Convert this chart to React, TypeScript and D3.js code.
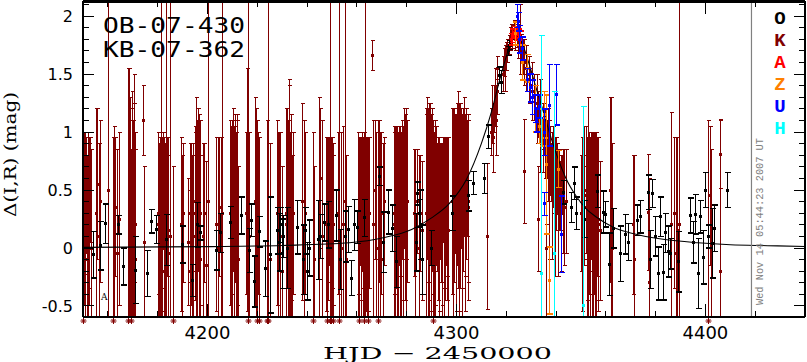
import * as d3 from "d3";

// plot frame in page pixels
const W = 807;
const H = 362;
const PLOT = { left: 83, right: 805, top: 1, bottom: 317 };

const X_DOMAIN = [4150, 4440];
const Y_DOMAIN = [-0.595, 2.13];
const X_MAJOR = [4200, 4300, 4400];
const X_LABELS = ["4200", "4300", "4400"];
const Y_MAJOR = [-0.5, 0, 0.5, 1, 1.5, 2];
const Y_LABELS = ["-0.5", "0", "0.5", "1", "1.5", "2"];
const NOW_HJD = 4418.5;

// [HJD-2450000, delta mag, error]
const OGLE = [
  [4154.0, -0.06, 0.2], [4156.8, 0.02, 0.21], [4158.9, 0.21, 0.17], [4164.1, 0.2, 0.08],
  [4166.1, -0.16, 0.16], [4170.9, -0.19, 0.29], [4175.8, -0.22, 0.2], [4177.4, 0.23, 0.1],
  [4179.4, 0.16, 0.12], [4183.4, 0.07, 0.22], [4189.8, 0.03, 0.16], [4193.9, -0.28, 0.14],
  [4195.9, 0.2, 0.19], [4197.1, 0.13, 0.06], [4203.5, -0.02, 0.17], [4205.1, 0.13, 0.17],
  [4209.2, 0.22, 0.14], [4213.6, 0.28, 0.16], [4216.8, -0.02, 0.19], [4217.6, 0.24, 0.14],
  [4218.8, -0.29, 0.22], [4220.8, 0.14, 0.13], [4223.2, -0.18, 0.24], [4225.3, -0.06, 0.5],
  [4228.0, 0.15, 0.2], [4228.6, 0.05, 0.25], [4229.2, 0.2, 0.15], [4229.8, -0.05, 0.3],
  [4230.4, 0.1, 0.18], [4232.1, 0.0, 0.35], [4236.1, 0.18, 0.23], [4238.5, -0.1, 0.3],
  [4239.3, 0.15, 0.2], [4240.1, -0.2, 0.25], [4240.9, 0.0, 0.24], [4244.2, 0.07, 0.34],
  [4245.0, 0.1, 0.19], [4246.6, 0.22, 0.16], [4248.6, 0.2, 0.2], [4251.8, 0.28, 0.22],
  [4253.4, -0.1, 0.26], [4255.4, 0.1, 0.22], [4256.6, 0.16, 0.2], [4257.8, -0.26, 0.15],
  [4258.7, 0.2, 0.22], [4259.9, 0.18, 0.14], [4262.7, 0.26, 0.16], [4268.7, 0.62, 0.08],
  [4270.3, 0.05, 0.26], [4272.7, 0.31, 0.19], [4274.3, 0.17, 0.2], [4275.6, -0.12, 0.22],
  [4283.8, 0.05, 0.25], [4284.0, 0.47, 0.1], [4284.8, 0.3, 0.12], [4285.2, 0.2, 0.3],
  [4286.2, -0.1, 0.3], [4289.8, 0.0, 0.15], [4298.1, 0.3, 0.15], [4304.5, 0.45, 0.13],
  [4306.5, 0.56, 0.1], [4311.0, 0.6, 0.13], [4312.6, 0.96, 0.1], [4317.0, 1.49, 0.07],
  [4317.8, 1.43, 0.1], [4320.6, 1.7, 0.04], [4321.0, 1.75, 0.04],
  [4342.8, 0.48, 0.1], [4346.0, 0.35, 0.13], [4347.2, 0.56, 0.14], [4348.0, 0.3, 0.14],
  [4351.2, 0.25, 0.16], [4356.4, 0.49, 0.14], [4358.9, 0.31, 0.18], [4359.7, 0.29, 0.11],
  [4361.3, -0.14, 0.27], [4362.9, 0.17, 0.17], [4365.7, -0.05, 0.24], [4367.7, 0.12, 0.17],
  [4368.9, 0.05, 0.16], [4372.5, 0.24, 0.13], [4373.7, 0.27, 0.14], [4377.0, 0.48, 0.15],
  [4377.8, -0.1, 0.25], [4378.6, 0.47, 0.12], [4379.8, 0.1, 0.17], [4381.0, -0.22, 0.23],
  [4381.8, 0.27, 0.17], [4383.0, -0.21, 0.24], [4383.8, 0.13, 0.17], [4385.0, -0.03, 0.22],
  [4385.8, -0.05, 0.13], [4389.0, -0.12, 0.26], [4393.9, 0.28, 0.15], [4395.1, 0.05, 0.18],
  [4395.9, 0.29, 0.17], [4397.1, -0.22, 0.3], [4397.9, 0.27, 0.14], [4399.1, -0.08, 0.23],
  [4399.9, 0.5, 0.15], [4401.1, 0.1, 0.1], [4402.7, 0.04, 0.3], [4403.5, 0.17, 0.2],
  [4408.8, 0.5, 0.15],
];

const KB = [
  [4150.1, -0.8, 1.7], [4150.3, 0.35, 0.58], [4150.5, 0.25, 0.75], [4150.8, 0.1, 0.8],
  [4151.0, 0.4, 0.6], [4151.3, 0.45, 0.5], [4151.8, -0.1, 0.9], [4152.0, 0.15, 0.85],
  [4152.3, 0.2, 0.7], [4152.6, 0.3, 0.65], [4152.8, 0.5, 0.45], [4153.2, 0.0, 0.85],
  [4155.3, 0.3, 0.9], [4155.8, 0.55, 0.65], [4156.3, 0.1, 0.8], [4156.7, 0.4, 0.7],
  [4160.2, 0.5, 2.5],
  [4162.1, -0.8, 1.75], [4162.6, 0.1, 0.95], [4163.0, 0.35, 0.6], [4163.7, -0.05, 0.9], [4164.3, 0.25, 0.75],
  [4168.1, -0.8, 2.35], [4168.6, 0.2, 1.35], [4168.9, 0.1, 1.0], [4169.0, 0.5, 0.8],
  [4169.3, -0.75, 1.6], [4169.6, 0.4, 0.95], [4169.8, 0.3, 0.9], [4170.2, 0.0, 1.1],
  [4170.4, 0.25, 1.0], [4170.6, 0.6, 0.9], [4170.8, -0.1, 0.95], [4171.0, 0.2, 0.8],
  [4174.2, 1.1, 0.3], [4174.6, 0.05, 0.65],
  [4180.0, 0.2, 0.8], [4180.2, 0.3, 0.7], [4180.4, -0.1, 1.0], [4180.8, 0.4, 0.55],
  [4181.0, 0.05, 0.85], [4181.2, 0.3, 2.6], [4181.6, 0.0, 0.9], [4181.8, 0.3, 0.65],
  [4182.0, 0.5, 0.5], [4182.4, -0.2, 0.9], [4182.6, 0.2, 0.75], [4182.8, 0.1, 0.8],
  [4183.3, 0.2, 2.6], [4183.8, 0.35, 0.6], [4184.0, 0.15, 0.8], [4184.3, -0.05, 0.85], [4185.0, 0.1, 2.5],
  [4186.2, -0.8, 1.5],
  [4189.2, 0.2, 0.75], [4189.7, -0.1, 0.9], [4190.1, 0.3, 0.6],
  [4192.2, 0.05, 0.55], [4192.8, -0.2, 0.7], [4193.0, 0.3, 0.6], [4193.5, 0.2, 0.7],
  [4193.8, -0.1, 0.9], [4194.2, 0.1, 0.8], [4194.8, 0.4, 0.6], [4195.1, 0.3, 0.75],
  [4195.4, 0.0, 1.3], [4195.7, 0.2, 0.9], [4196.0, 0.5, 0.7], [4196.5, 0.15, 1.0],
  [4196.8, 0.3, 0.8], [4197.0, -0.1, 0.9],
  [4198.2, 0.1, 0.8], [4198.8, 0.3, 0.6], [4199.4, -0.15, 0.9], [4200.3, 0.4, 2.5],
  [4203.6, 0.2, 0.75], [4204.2, 0.0, 0.95], [4204.8, 0.35, 0.6], [4205.5, 0.1, 0.85], [4206.0, 0.3, 2.5],
  [4209.2, 0.3, 0.8], [4209.4, 0.15, 0.9], [4209.7, 0.0, 1.0], [4210.0, 0.35, 0.75],
  [4210.2, 0.5, 0.7], [4210.5, 0.2, 0.85], [4210.7, 0.1, 0.9], [4211.0, 0.4, 0.7],
  [4211.2, 0.6, 0.55], [4211.5, 0.0, 1.0], [4211.7, 0.2, 0.95], [4212.0, 0.3, 0.8], [4212.2, -0.1, 0.8],
  [4215.5, 0.3, 0.7], [4216.0, 0.5, 1.05], [4216.4, -0.8, 3.2], [4216.8, 0.1, 0.9],
  [4218.9, 0.4, 0.9], [4219.4, 0.1, 1.1], [4220.0, -0.8, 1.9], [4220.4, 0.3, 0.7], [4220.8, -0.75, 1.7],
  [4224.0, -0.8, 1.9], [4224.5, -0.8, 3.2], [4225.0, -0.1, 1.0],
  [4227.8, 0.3, 0.8], [4228.3, 0.0, 1.0], [4228.8, 0.4, 0.6], [4229.3, 0.1, 0.9], [4229.8, -0.2, 0.9],
  [4231.4, 0.2, 1.0], [4231.6, 0.3, 0.9], [4231.9, 0.5, 0.7], [4232.2, 0.15, 0.95],
  [4232.4, 0.0, 1.0], [4232.6, 0.6, 0.8], [4232.9, 0.4, 1.05], [4233.1, 0.1, 0.9],
  [4233.4, 0.2, 0.8], [4233.6, 0.35, 0.8], [4233.9, -0.1, 0.9], [4234.2, 0.3, 0.7],
  [4238.1, 0.4, 0.85], [4238.6, 0.1, 1.0], [4239.2, 0.3, 0.7],
  [4242.2, -0.8, 1.8], [4242.6, -0.1, 0.8],
  [4244.6, 0.3, 1.0], [4245.3, 0.6, 0.6], [4246.0, 0.1, 1.0],
  [4247.8, 0.2, 0.75], [4248.0, 0.1, 0.8], [4248.2, -0.8, 1.75], [4248.5, 0.25, 0.7],
  [4248.7, 0.4, 0.55], [4249.1, -0.8, 3.2], [4249.4, 0.3, 0.6], [4249.6, 0.0, 0.9],
  [4249.8, -0.75, 1.7], [4250.0, 0.1, 0.8], [4250.2, 0.3, 0.65], [4250.4, 0.2, 0.7], [4250.6, -0.8, 1.6],
  [4252.6, 0.3, 0.7], [4253.0, -0.8, 3.2], [4253.8, 0.0, 1.0], [4254.5, 0.2, 0.85],
  [4255.2, 0.4, 2.6], [4255.8, -0.1, 0.9],
  [4260.3, 0.2, 0.8], [4260.5, 0.3, 0.7], [4260.7, -0.8, 1.75], [4261.0, 0.0, 0.9],
  [4261.3, 0.4, 0.55], [4261.6, 0.25, 0.7], [4261.8, 0.1, 0.85], [4262.0, 0.4, 0.6],
  [4262.3, 0.3, 0.65], [4262.5, 0.1, 0.85], [4262.7, -0.8, 1.8], [4263.0, 0.2, 0.8],
  [4263.2, 0.5, 2.6], [4263.5, 0.35, 0.6], [4263.7, 0.2, 0.75], [4264.0, 0.1, 0.85],
  [4264.3, -0.8, 1.75], [4264.5, 0.2, 0.75], [4264.7, 0.3, 0.65],
  [4266.2, 1.66, 0.13],
  [4266.6, 0.2, 0.9], [4267.2, 0.5, 0.6], [4267.8, 0.0, 1.0], [4268.3, -0.8, 1.9],
  [4268.8, 0.4, 0.7], [4269.3, 0.1, 0.9], [4269.8, 0.3, 0.7], [4270.3, -0.1, 1.0], [4270.7, 0.4, 0.55],
  [4274.8, 0.3, 0.7], [4275.1, 0.2, 0.85], [4275.4, 0.1, 0.95], [4275.7, 0.35, 0.7],
  [4276.0, 0.5, 0.55], [4276.3, 0.1, 0.9], [4276.6, 0.2, 0.8], [4276.9, 0.45, 0.6],
  [4277.2, 0.4, 0.65], [4277.5, 0.2, 0.85], [4277.8, 0.0, 1.0], [4278.1, 0.5, 0.6],
  [4278.4, 0.3, 0.75], [4278.7, 0.1, 0.95], [4279.0, 0.6, 0.6], [4279.3, 0.35, 0.8],
  [4279.6, 0.2, 1.0], [4279.9, 0.5, 0.6], [4280.2, 0.4, 0.7],
  [4282.9, 0.3, 0.55], [4283.5, 0.1, 0.75], [4284.2, 0.4, 0.45], [4284.9, 0.0, 0.8],
  [4285.5, 0.3, 0.5], [4286.1, 0.15, 0.6],
  [4287.6, 0.3, 0.9], [4287.9, 0.2, 0.95], [4288.1, 0.6, 0.7], [4288.4, 0.45, 0.75],
  [4288.6, 0.1, 1.0], [4288.9, 0.25, 0.9], [4289.1, 0.4, 0.85], [4289.4, 0.55, 0.7],
  [4289.6, 0.2, 0.9], [4289.9, 0.3, 0.85], [4290.1, 0.5, 0.7], [4290.4, -0.8, 1.6],
  [4290.6, 0.35, 0.75], [4290.8, 0.0, 1.0], [4291.2, 0.3, 0.8], [4291.4, 0.15, 0.9], [4291.6, 0.45, 0.6],
  [4292.2, 0.35, 0.55], [4292.5, 0.25, 0.7], [4292.8, 0.1, 0.8], [4293.1, 0.2, 0.75],
  [4293.4, 0.4, 0.5], [4293.7, 0.3, 0.6], [4294.0, 0.2, 0.7], [4294.3, 0.1, 0.8],
  [4294.6, 0.5, 0.45], [4294.9, 0.3, 0.65], [4295.2, 0.15, 0.8], [4295.5, 0.25, 0.7],
  [4295.8, 0.4, 0.55], [4296.1, 0.35, 0.6], [4296.4, 0.25, 0.7], [4296.7, 0.15, 0.8],
  [4298.2, 0.4, 0.8], [4298.5, 0.3, 0.9], [4298.8, 0.2, 0.9], [4299.1, 0.45, 0.75],
  [4299.4, 0.55, 0.6], [4299.7, 0.2, 0.95], [4300.0, 0.3, 0.85], [4300.3, 0.55, 0.7],
  [4300.6, 0.5, 0.85], [4300.9, 0.35, 0.9], [4301.2, 0.2, 1.0], [4301.5, 0.45, 0.8],
  [4301.8, 0.6, 0.6], [4302.1, 0.25, 0.9], [4302.4, 0.4, 0.75], [4302.7, 0.5, 0.7],
  [4303.0, 0.7, 0.6], [4303.3, 0.3, 0.85], [4303.6, 0.45, 0.7], [4303.9, 0.55, 0.65],
  [4304.2, 0.6, 0.5], [4304.5, 0.4, 0.7], [4304.8, 0.35, 0.8],
  [4312.2, 0.1, 0.63],
  [4313.9, 1.0, 0.2], [4314.3, 1.15, 0.25], [4314.7, 0.95, 0.3], [4315.1, 1.2, 0.2],
  [4315.5, 1.3, 0.25], [4315.9, 1.1, 0.3], [4316.3, 1.35, 0.2], [4316.4, 1.55, 0.1],
  [4318.7, 1.5, 0.15], [4319.1, 1.6, 0.12], [4319.5, 1.55, 0.2], [4319.9, 1.65, 0.12], [4320.3, 1.7, 0.1],
  [4321.0, 1.75, 0.08], [4321.5, 1.8, 0.1], [4322.0, 1.85, 0.08], [4322.5, 1.82, 0.1],
  [4323.0, 1.88, 0.08], [4323.5, 1.8, 0.1],
  [4324.2, 1.83, 0.1], [4324.8, 1.78, 0.15], [4325.4, 1.8, 0.3], [4326.0, 1.72, 0.12],
  [4326.6, 1.65, 0.15], [4327.0, 0.66, 0.45], [4327.2, 1.6, 0.2], [4327.8, 1.55, 0.2],
  [4328.4, 1.5, 0.15], [4329.0, 1.45, 0.2], [4329.6, 1.4, 0.15], [4330.2, 1.35, 0.25],
  [4331.0, 1.3, 0.2], [4331.6, 1.25, 0.15], [4332.2, 1.2, 0.3], [4332.7, 0.25, 0.45],
  [4332.8, 1.15, 0.2], [4333.4, 1.05, 0.4], [4334.0, 1.1, 0.25], [4334.6, 0.95, 0.3],
  [4335.6, 0.9, 0.3], [4335.9, 0.7, 0.5], [4336.0, 0.0, 0.85], [4336.2, 0.85, 0.25],
  [4336.8, 0.8, 0.4], [4337.1, 0.5, 0.6], [4337.4, 0.75, 0.3], [4338.0, 0.65, 0.25],
  [4338.3, 0.45, 0.55], [4338.6, 0.7, 0.35], [4339.2, 0.6, 0.3], [4339.5, 0.35, 0.6],
  [4339.8, 0.55, 0.4], [4340.4, 0.6, 0.3], [4340.7, 0.3, 0.55], [4341.0, 0.5, 0.35],
  [4341.6, 0.45, 0.3], [4341.9, 0.3, 0.5], [4342.2, 0.55, 0.25], [4342.6, 0.4, 0.45],
  [4343.2, 0.35, 0.5], [4344.0, 0.4, 0.45],
  [4350.2, 0.3, 0.5], [4350.6, 0.2, 0.75], [4350.8, 0.0, 0.7], [4351.1, 0.45, 0.6],
  [4351.4, 0.35, 0.45], [4351.9, 0.5, 0.55], [4352.4, 0.1, 0.75], [4352.6, 0.25, 0.7],
  [4352.9, 0.35, 0.95], [4353.1, 0.4, 0.6], [4353.4, 0.2, 0.6], [4353.7, 0.1, 0.85],
  [4354.0, 0.45, 0.55], [4354.3, 0.3, 0.7], [4354.6, 0.0, 0.8], [4355.0, 0.2, 0.8],
  [4355.2, 0.3, 0.7], [4355.5, 0.4, 0.6], [4355.8, 0.1, 0.9], [4356.1, 0.2, 0.8],
  [4356.4, 0.35, 0.6], [4356.7, 0.25, 0.7], [4357.0, 0.2, 0.75], [4357.6, 0.15, 0.6],
  [4361.8, 0.5, 0.8], [4362.1, 0.2, 1.1], [4362.5, 0.0, 0.9],
  [4370.9, 0.2, 0.6], [4371.3, -0.1, 0.9],
  [4377.0, 0.31, 0.5], [4377.4, -0.3, 0.9],
  [4386.2, 0.2, 0.97], [4387.5, 0.3, 0.65], [4388.0, -0.05, 1.0], [4388.5, 0.15, 0.8], [4389.2, 0.2, 2.6],
  [4401.1, -0.8, 1.9], [4401.7, 0.45, 0.6], [4402.2, 0.0, 0.85],
  [4405.8, 0.81, 0.3], [4406.0, -0.2, 1.3],
];

const AUCK = [
  [4321.9, 1.8, 0.05], [4322.5, 1.83, 0.06], [4323.2, 1.86, 0.05],
  [4324.0, 1.85, 0.06], [4324.8, 1.84, 0.05], [4325.6, 1.81, 0.06],
];

const ZEAL = [
  [4323.4, 1.85, 0.1], [4326.5, 1.6, 0.15], [4328.5, 1.55, 0.12], [4331.5, 1.2, 0.2],
  [4333.2, 1.05, 0.15], [4334.5, 1.0, 0.12], [4335.2, 1.15, 0.2], [4336.0, 0.72, 0.6],
  [4337.2, -0.28, 0.29], [4340.8, 0.68, 0.16],
];

const UTAS = [
  [4324.2, 2.0, 0.1], [4324.6, 1.95, 0.08], [4325.3, 1.8, 0.12], [4326.2, 1.72, 0.1],
  [4328.2, 1.45, 0.1], [4329.5, 1.38, 0.12], [4330.5, 1.3, 0.15], [4331.5, 1.2, 0.12],
  [4332.0, 1.1, 0.1], [4333.0, 1.22, 0.1], [4335.0, 1.0, 0.2], [4335.1, 0.38, 0.1],
  [4337.1, 1.23, 0.35], [4340.0, 1.32, 0.26], [4342.0, 0.12, 0.33],
];

const HAWA = [
  [4333.9, -0.22, 2.05], [4339.1, -0.05, 1.4], [4350.8, -0.5, 1.72],
];

const MODEL = [
  [4150, 0.005], [4200, 0.012], [4230, 0.022], [4257, 0.045], [4271, 0.09], [4282, 0.16],
  [4290, 0.26], [4297, 0.38], [4304, 0.59], [4310, 0.9], [4314, 1.17], [4317, 1.42],
  [4320, 1.65], [4322, 1.77], [4324, 1.82], [4326, 1.78], [4329, 1.6], [4332, 1.38],
  [4335, 1.17], [4338, 0.95], [4341, 0.76], [4344, 0.6], [4348, 0.45], [4352, 0.34],
  [4356, 0.27], [4363, 0.18], [4370, 0.13], [4383, 0.075], [4397, 0.045], [4410, 0.028],
  [4425, 0.02], [4440, 0.013],
];

const LEGEND = [
  { code: "O", color: "#000000" },
  { code: "K", color: "#800000" },
  { code: "A", color: "#ff0000" },
  { code: "Z", color: "#ff8000" },
  { code: "U", color: "#0000ff" },
  { code: "H", color: "#00ffff" },
];

const x = d3.scaleLinear().domain(X_DOMAIN).range([PLOT.left, PLOT.right]);
const y = d3.scaleLinear().domain(Y_DOMAIN).range([PLOT.bottom, PLOT.top]);

function ErrorBars({ data, color, cap, width, dot }) {
  return (
    <g>
      {data.map(([t, m, e], i) => {
        const cx = Math.round(x(t)) + 0.5;
        const yTop = y(m + e);
        const yBot = y(m - e);
        const cy = y(m);
        return (
          <g key={i}>
            <line x1={cx} x2={cx} y1={yTop} y2={yBot} stroke={color} strokeWidth={width} />
            <line x1={cx - cap} x2={cx + cap} y1={yTop} y2={yTop} stroke={color} strokeWidth={width} />
            <line x1={cx - cap} x2={cx + cap} y1={yBot} y2={yBot} stroke={color} strokeWidth={width} />
            <rect x={cx - dot / 2} y={cy - dot / 2} width={dot} height={dot} fill={color} />
          </g>
        );
      })}
    </g>
  );
}

// points fainter than the bottom of the plot are flagged with an asterisk below the axis
function LowStars({ data, color }) {
  const low = data.filter((d) => d[1] < Y_DOMAIN[0]);
  return (
    <g stroke={color} strokeWidth={1}>
      {low.map(([t], i) => {
        const cx = Math.round(x(t)) + 0.5;
        const cy = PLOT.bottom + 4;
        return (
          <path
            key={i}
            d={`M${cx - 3},${cy}H${cx + 3}M${cx},${cy - 3}V${cy + 3}M${cx - 2},${cy - 2}L${cx + 2},${cy + 2}M${cx - 2},${cy + 2}L${cx + 2},${cy - 2}`}
          />
        );
      })}
    </g>
  );
}

export default function App() {
  const modelLine = d3
    .line()
    .x((d) => x(d[0]))
    .y((d) => y(d[1]))
    .curve(d3.curveMonotoneX);

  const xMinor = d3.range(4160, 4441, 20).filter((v) => !X_MAJOR.includes(v));
  const yMinor = d3
    .range(-5, 22)
    .map((i) => i / 10)
    .filter((v) => !Y_MAJOR.some((m) => Math.abs(m - v) < 1e-9));

  return (
    <>
      <style>{`body{margin:0;background:#fff}`}</style>
      <svg width={W} height={H} viewBox={`0 0 ${W} ${H}`} style={{ display: "block" }}>
        <defs>
          <clipPath id="plotClip">
            <rect x={PLOT.left} y={PLOT.top} width={PLOT.right - PLOT.left} height={PLOT.bottom - PLOT.top} />
          </clipPath>
        </defs>
        <rect width={W} height={H} fill="#fff" />

        <g clipPath="url(#plotClip)" shapeRendering="crispEdges">
          <ErrorBars data={KB} color="#800000" cap={2} width={1} dot={3} />
          <ErrorBars data={OGLE} color="#000000" cap={3} width={1.4} dot={3} />
          <path d={modelLine(MODEL)} fill="none" stroke="#000" strokeWidth={1.1} shapeRendering="auto" />
          <ErrorBars data={AUCK} color="#ff0000" cap={3} width={1.4} dot={3} />
          <ErrorBars data={ZEAL} color="#ff8000" cap={3} width={1.4} dot={3} />
          <ErrorBars data={UTAS} color="#0000ff" cap={3} width={1.4} dot={3} />
          <ErrorBars data={HAWA} color="#00ffff" cap={3} width={1.4} dot={3} />
        </g>
        <LowStars data={KB} color="#800000" />

        {/* current-time marker */}
        <line x1={x(NOW_HJD)} x2={x(NOW_HJD)} y1={PLOT.top} y2={PLOT.bottom} stroke="#808080" strokeWidth={1.2} />
        <text
          transform={`translate(763,305) rotate(-90)`}
          fontFamily="Liberation Mono"
          fontSize={11.5}
          fill="#808080"
          textLength={167}
          lengthAdjust="spacingAndGlyphs"
        >
          Wed Nov 14 05:44:23 2007 UT
        </text>

        {/* frame */}
        <g stroke="#000" shapeRendering="crispEdges" fill="none">
          <line x1={PLOT.left} x2={PLOT.right} y1={PLOT.top} y2={PLOT.top} strokeWidth={3} />
          <line x1={PLOT.left} x2={PLOT.right} y1={PLOT.bottom} y2={PLOT.bottom} strokeWidth={2} />
          <line x1={PLOT.left} x2={PLOT.left} y1={PLOT.top} y2={PLOT.bottom} strokeWidth={1.3} />
          <line x1={PLOT.right} x2={PLOT.right} y1={PLOT.top} y2={PLOT.bottom} strokeWidth={1.3} />
          {X_MAJOR.map((v) => (
            <g key={v}>
              <line x1={x(v)} x2={x(v)} y1={PLOT.bottom} y2={PLOT.bottom - 13} />
              <line x1={x(v)} x2={x(v)} y1={PLOT.top} y2={PLOT.top + 13} />
            </g>
          ))}
          {xMinor.map((v) => (
            <g key={v}>
              <line x1={x(v)} x2={x(v)} y1={PLOT.bottom} y2={PLOT.bottom - 6} />
              <line x1={x(v)} x2={x(v)} y1={PLOT.top} y2={PLOT.top + 6} />
            </g>
          ))}
          {Y_MAJOR.map((v) => (
            <g key={v}>
              <line x1={PLOT.left} x2={PLOT.left + 11} y1={y(v)} y2={y(v)} />
              <line x1={PLOT.right} x2={PLOT.right - 11} y1={y(v)} y2={y(v)} />
            </g>
          ))}
          {yMinor.map((v) => (
            <g key={v}>
              <line x1={PLOT.left} x2={PLOT.left + 6} y1={y(v)} y2={y(v)} />
              <line x1={PLOT.right} x2={PLOT.right - 6} y1={y(v)} y2={y(v)} />
            </g>
          ))}
        </g>

        {/* tick labels */}
        {X_MAJOR.map((v, i) => (
          <text key={v} x={x(v)} y={339} textAnchor="middle" fontFamily="DejaVu Sans" fontSize={18}>
            {X_LABELS[i]}
          </text>
        ))}
        {Y_MAJOR.map((v, i) => (
          <text key={v} x={73} y={y(v) + 6} textAnchor="end" fontFamily="DejaVu Sans" fontSize={16}>
            {Y_LABELS[i]}
          </text>
        ))}

        {/* axis titles */}
        <text
          x={323}
          y={359}
          fontFamily="DejaVu Serif"
          fontSize={17}
          textLength={229}
          lengthAdjust="spacingAndGlyphs"
        >
          HJD − 2450000
        </text>
        <text
          transform={`translate(16,217) rotate(-90)`}
          fontFamily="DejaVu Serif"
          fontSize={16}
          textLength={125}
          lengthAdjust="spacingAndGlyphs"
        >
          Δ(I,R) (mag)
        </text>

        {/* event names */}
        <g fontFamily="DejaVu Sans Mono" fontSize={21}>
          <text x={103} y={33} textLength={142} lengthAdjust="spacingAndGlyphs">
            OB-07-430
          </text>
          <text x={103} y={57} textLength={142} lengthAdjust="spacingAndGlyphs">
            KB-07-362
          </text>
        </g>
        <text x={101} y={300} fontFamily="DejaVu Serif" fontSize={9}>
          A
        </text>

        {/* observatory key */}
        {LEGEND.map((d, i) => (
          <text
            key={d.code}
            x={780}
            y={24 + i * 22}
            textAnchor="middle"
            fontFamily="Liberation Mono"
            fontWeight="bold"
            fontSize={19}
            fill={d.color}
          >
            {d.code}
          </text>
        ))}
      </svg>
    </>
  );
}
